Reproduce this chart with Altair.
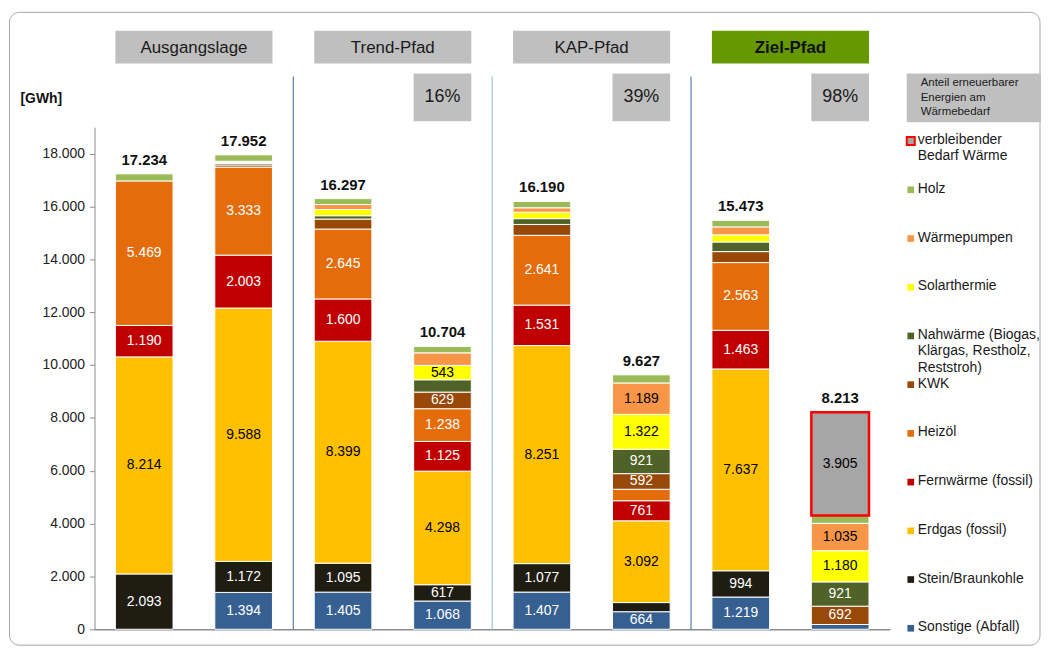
import altair as alt
import pandas as pd

# ---------------- data ----------------
bars = ["Ausgangslage 1", "Ausgangslage 2", "Trend-Pfad 1", "Trend-Pfad 2",
        "KAP-Pfad 1", "KAP-Pfad 2", "Ziel-Pfad 1", "Ziel-Pfad 2"]
groups = ["Ausgangslage", "Trend-Pfad", "KAP-Pfad", "Ziel-Pfad"]

# series from bottom to top of the stack
series = ["Sonstige (Abfall)", "Stein/Braunkohle", "Erdgas (fossil)", "Fernwärme (fossil)",
          "Heizöl", "KWK", "Nahwärme (Biogas, Klärgas, Restholz, Reststroh)",
          "Solarthermie", "Wärmepumpen", "Holz", "verbleibender Bedarf Wärme"]
colors = ["#376092", "#1f1c12", "#ffc000", "#c00000", "#e46c0a", "#984807",
          "#4f6228", "#ffff00", "#f79646", "#9bbb59", "#a6a6a6"]
text_colors = ["white", "white", "black", "white", "white", "white",
               "white", "black", "black", "black", "black"]

sonstige = [0, 1394, 1405, 1068, 1407, 664, 1219, 180]
stein = [2093, 1172, 1095, 617, 1077, 346, 994, 0]
erdgas = [8214, 9588, 8399, 4298, 8251, 3092, 7637, 0]
fernwaerme = [1190, 2003, 1600, 1125, 1531, 761, 1463, 0]
heizoel = [5469, 3333, 2645, 1238, 2641, 434, 2563, 0]
kwk = [0, 80, 380, 629, 412, 592, 415, 692]
nahwaerme = [0, 60, 125, 466, 220, 921, 363, 921]
solar = [0, 30, 235, 543, 243, 1322, 272, 1180]
waermepumpen = [0, 50, 190, 475, 168, 1189, 300, 1035]
holz = [268, 242, 223, 245, 240, 306, 247, 300]
verbleibend = [0, 0, 0, 0, 0, 0, 0, 3905]
values = [sonstige, stein, erdgas, fernwaerme, heizoel, kwk, nahwaerme,
          solar, waermepumpen, holz, verbleibend]

totals = [17234, 17952, 16297, 10704, 16190, 9627, 15473, 8213]

share_bars = ["Trend-Pfad 2", "KAP-Pfad 2", "Ziel-Pfad 2"]
share_labels = ["16%", "39%", "98%"]

legend_labels = ["verbleibender\nBedarf Wärme", "Holz", "Wärmepumpen", "Solarthermie",
                 "Nahwärme (Biogas,\nKlärgas, Restholz,\nReststroh)", "KWK", "Heizöl",
                 "Fernwärme (fossil)", "Erdgas (fossil)", "Stein/Braunkohle",
                 "Sonstige (Abfall)"]


def de(v):
    return f"{v:,}".replace(",", ".")


# ---------------- tables ----------------
rows = []
for j, b in enumerate(bars):
    cum = 0
    for i, s in enumerate(series):
        v = values[i][j]
        if v <= 0:
            continue
        is_rest = s.startswith("verbleibender")
        rows.append({
            "bar": b, "series": s, "value": v, "y0": cum, "y1": cum + v,
            "mid": cum + v / 2, "color": colors[i], "tcolor": text_colors[i],
            "label": de(v) if v >= 500 else "",
            "stroke": "#ff0000" if is_rest else "#ffffff",
            "sw": 2.5 if is_rest else 1.0,
        })
        cum += v
seg = pd.DataFrame(rows)
seg_lab = seg[seg["label"] != ""]

tot = pd.DataFrame({"bar": bars, "total": totals, "label": [de(t) for t in totals]})
heads = pd.DataFrame({"group": groups,
                      "fill": ["#bfbfbf", "#bfbfbf", "#bfbfbf", "#669900"],
                      "bold": [False, False, False, True]})
shares = pd.DataFrame({"bar": share_bars, "label": share_labels})
seps = pd.DataFrame({"sep": groups[:3], "col": ["#5b7db1", "#a7c0e0", "#5b7db1"]})

leg_colors = colors[::-1]
leg = pd.DataFrame({
    "rank": list(range(len(legend_labels))),
    "label": legend_labels,
    "color": leg_colors,
    "stroke": ["#ff0000"] + leg_colors[1:],
    "sw": [2] + [0] * (len(legend_labels) - 1),
    "size": [64] + [45] * (len(legend_labels) - 1),
})

W, H = 800, 505
FONT = "Liberation Sans"


def xbar(axis=None):
    return alt.X("bar:N", scale=alt.Scale(domain=bars, paddingInner=0.42, paddingOuter=0.21),
                 axis=axis)


def xgroup():
    return alt.X("group:N", scale=alt.Scale(domain=groups, paddingInner=0.21, paddingOuter=0.105),
                 axis=None)


YSCALE = alt.Scale(domain=[0, 19000], nice=False, zero=True)

# ---------------- layers ----------------
border = alt.Chart(pd.DataFrame({"k": [0]})).mark_rect(
    fillOpacity=0, stroke="#a6a6a6", strokeWidth=1, cornerRadius=10
).encode(x=alt.value(-85.5), x2=alt.value(951), y=alt.value(-115.5), y2=alt.value(521))

head_rect = alt.Chart(heads).mark_rect().encode(
    x=xgroup(), y=alt.value(-97), y2=alt.value(-64),
    color=alt.Color("fill:N", scale=None))
head_txt = alt.Chart(heads[~heads["bold"]]).mark_text(
    fontSize=17, font=FONT, color="#1a1a1a", baseline="middle"
).encode(x=xgroup(), y=alt.value(-80), text="group:N")
head_txt_b = alt.Chart(heads[heads["bold"]]).mark_text(
    fontSize=17, font=FONT, fontWeight="bold", color="#111111", baseline="middle"
).encode(x=xgroup(), y=alt.value(-80), text="group:N")

share_rect = alt.Chart(shares).mark_rect(color="#bfbfbf").encode(
    x=xbar(), y=alt.value(-54), y2=alt.value(-6))
share_txt = alt.Chart(shares).mark_text(
    fontSize=18, font=FONT, color="#1a1a1a", baseline="middle"
).encode(x=xbar(), y=alt.value(-30), text="label:N")

sep_rule = alt.Chart(seps).mark_rule(strokeWidth=1.2).encode(
    x=alt.X("sep:N", scale=alt.Scale(domain=groups, paddingInner=0, paddingOuter=0),
            bandPosition=1, axis=None),
    y=alt.value(-51), y2=alt.value(H),
    color=alt.Color("col:N", scale=None))

yaxis = alt.Axis(
    values=list(range(0, 18001, 2000)),
    labelExpr="replace(format(datum.value, ','), ',', '.')",
    grid=False, domainColor="#8c8c8c", tickColor="#8c8c8c", tickSize=5,
    labelFontSize=14, labelColor="#222222", labelPadding=5, labelFont=FONT,
    title="[GWh]", titleAngle=0, titleX=-75, titleY=-29, titleAlign="left",
    titleBaseline="middle", titleFontWeight="bold", titleFontSize=14, titleFont=FONT,
    titleColor="#111111")
xaxis = alt.Axis(labels=False, ticks=False, title="", domainColor="#8c8c8c",
                 domainWidth=1.5, grid=False)

bars_layer = alt.Chart(seg).mark_bar().encode(
    x=xbar(xaxis),
    y=alt.Y("y0:Q", scale=YSCALE, axis=yaxis),
    y2="y1:Q",
    color=alt.Color("color:N", scale=None),
    stroke=alt.Stroke("stroke:N", scale=None),
    strokeWidth=alt.StrokeWidth("sw:Q", scale=None),
)

seg_text = alt.Chart(seg_lab).mark_text(fontSize=14, font=FONT, baseline="middle").encode(
    x=xbar(), y=alt.Y("mid:Q", scale=YSCALE, axis=None), text="label:N",
    color=alt.Color("tcolor:N", scale=None))

tot_text = alt.Chart(tot).mark_text(
    fontSize=15, font=FONT, fontWeight="bold", baseline="bottom", dy=-6, color="#111111"
).encode(x=xbar(), y=alt.Y("total:Q", scale=YSCALE, axis=None), text="label:N")

# legend (drawn with its own scale)
LEGY = alt.Y("rank:Q", scale=alt.Scale(domain=[0, 10], range=[14, 504]), axis=None)
leg_sym = alt.Chart(leg).mark_point(shape="square", filled=True, opacity=1).encode(
    x=alt.value(821), y=LEGY,
    fill=alt.Color("color:N", scale=None),
    stroke=alt.Stroke("stroke:N", scale=None),
    strokeWidth=alt.StrokeWidth("sw:Q", scale=None),
    size=alt.Size("size:Q", scale=None))
leg_txt = alt.Chart(leg).mark_text(
    fontSize=14, font=FONT, align="left", baseline="top", dy=-8, lineBreak="\n",
    lineHeight=16.5, color="#1a1a1a"
).encode(x=alt.value(828), y=LEGY, text="label:N")

anteil_rect = alt.Chart(pd.DataFrame({"k": [0]})).mark_rect(color="#bfbfbf").encode(
    x=alt.value(817), x2=alt.value(952), y=alt.value(-54), y2=alt.value(-5))
anteil_txt = alt.Chart(pd.DataFrame({"t": ["Anteil erneuerbarer\nEnergien am\nWärmebedarf"]})).mark_text(
    fontSize=11.5, font=FONT, align="left", baseline="top", lineBreak="\n", lineHeight=14.5,
    color="#1a1a1a"
).encode(x=alt.value(831), y=alt.value(-50), text="t:N")

chart = alt.layer(
    border, head_rect, head_txt, head_txt_b, share_rect, share_txt, sep_rule,
    bars_layer, seg_text, tot_text, leg_sym, leg_txt, anteil_rect, anteil_txt
).resolve_scale(
    x="independent", y="independent"
).properties(
    width=W, height=H,
    autosize=alt.AutoSizeParams(type="none"),
    padding={"left": 87, "top": 118, "right": 153, "bottom": 18},
).configure(font=FONT).configure_view(strokeWidth=0, stroke="transparent")

chart.save("out.html", embed_options={"renderer": "svg", "actions": False})
